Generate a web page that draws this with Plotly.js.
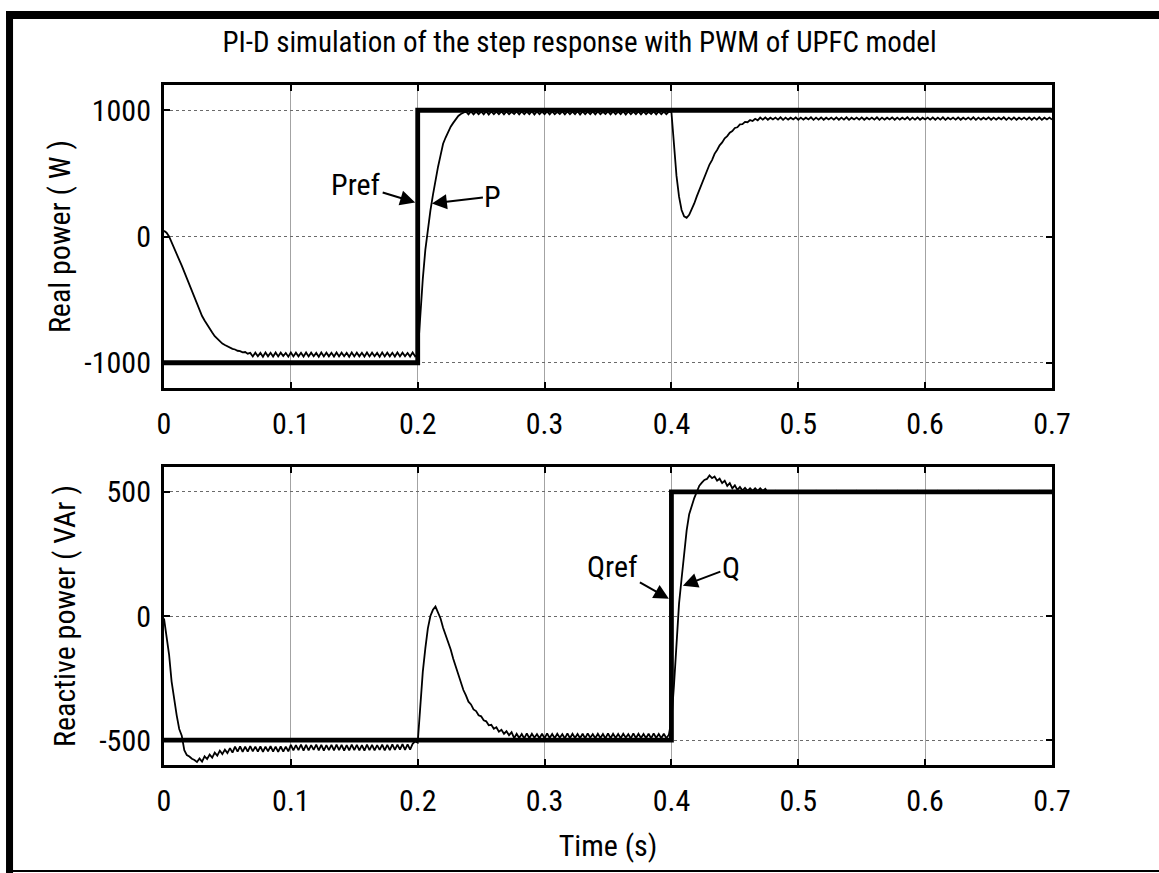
<!DOCTYPE html>
<html>
<head>
<meta charset="utf-8">
<script src="https://cdn.plot.ly/plotly-3.0.1.min.js"></script>
<style>
  html, body { margin: 0; padding: 0; background: #fff; }
  #chart { width: 1159px; height: 873px; }
</style>
</head>
<body>
<div id="chart"></div>
<script>
// ---- Data ----
const T0 = 0;          // first sample time (s)
const DT = 0.002;      // sample spacing (s)

const xTickVals = [0, 0.1, 0.2, 0.3, 0.4, 0.5, 0.6, 0.7];
const xTickText = ['0', '0.1', '0.2', '0.3', '0.4', '0.5', '0.6', '0.7'];
const pTickVals = [-1000, 0, 1000];
const pTickText = ['-1000', '0', '1000'];
const qTickVals = [-500, 0, 500];
const qTickText = ['-500', '0', '500'];

// Reference steps
const prefT = [0, 0.2, 0.2, 0.7];
const prefV = [-1000, -1000, 1000, 1000];
const qrefT = [0, 0.4, 0.4, 0.7];
const qrefV = [-500, -500, 500, 500];

// Real power response P (W), every 2 ms from 0 to 0.7 s
const P = [
  45,30,0,-50,-95,-140,-185,-230,-280,-330,
  -385,-435,-490,-540,-585,-630,-665,-700,-735,-760,
  -790,-812,-830,-848,-860,-872,-880,-890,-895,-905,
  -908,-918,-915,-928,-922,
  -950,-920,-948,-922,-952,-918,-949,-921,-951,-919,
  -950,-920,-947,-923,-952,-918,-950,-920,-949,-921,
  -951,-919,-950,-920,-948,-922,-952,-918,-950,-920,
  -949,-921,-951,-919,-950,-920,-948,-922,-952,-918,
  -950,-920,-949,-921,-951,-919,-950,-920,-948,-922,
  -952,-918,-950,-920,-949,-921,-951,-919,-950,-920,
  -948,-922,-951,-919,-950,
  -935,
  -610,-337,-106,69,205,330,450,551,643,735,
  784,833,870,900,928,955,970,978,
  990,968,991,967,989,969,990,968,992,966,
  990,968,989,969,991,967,990,968,988,970,
  991,967,990,968,989,969,992,966,990,968,
  989,969,991,967,990,968,988,970,991,967,
  990,968,989,969,992,966,990,968,989,969,
  991,967,990,968,988,970,991,967,990,968,
  989,969,992,966,990,968,989,969,991,967,
  990,968,988,970,991,967,990,968,989,969,
  990,
  985,
  750,480,315,210,160,148,172,215,262,318,
  370,422,475,520,570,605,655,685,722,745,
  778,795,822,835,860,865,888,890,908,905,
  922,915,932,920,
  942,926,943,925,941,927,942,926,944,924,
  942,926,941,927,943,925,942,926,941,927,
  944,924,942,926,943,925,941,927,942,926,
  943,925,942,926,944,924,941,927,942,926,
  943,925,941,927,942,926,944,924,942,926,
  941,927,943,925,942,926,941,927,944,924,
  942,926,943,925,941,927,942,926,943,925,
  942,926,944,924,941,927,942,926,943,925,
  941,927,942,926,944,924,942,926,941,927,
  943,925,942,926,941,927,944,924,942,926,
  943,925,941,927,942,926,943,925,942,926,
  944,924,941,927,942,926
];

// Reactive power response Q (VAr), every 2 ms from 0 to 0.7 s
const Q = [
  -10,-85,-155,-264,-335,-400,-455,-482,-540,-560,
  -566,-575,-580,
  -588,-574,-586,-565,-576,-558,-570,-550,-562,-542,
  -556,-538,-552,-532,-550,
  -526,-546,-525,-547,-526,-546,-524,-545,-526,-546,
  -525,-547,-526,-545,-524,-546,-526,-547,-525,-546,
  -526,-545,
  -519,-541,-520,-540,-518,-542,-519,-541,-520,-539,
  -518,-541,-519,-542,-520,-540,-519,-541,-518,-540,
  -519,-542,-520,-541,-518,-540,-519,-541,-520,-542,
  -518,-540,-519,-541,-520,-539,-518,-541,-519,-540,
  -517,-539,-518,-538,-516,-539,-517,-538,
  -515,-505,-510,
  -360,-225,-130,-50,0,25,38,15,-10,-47,
  -75,-101,-135,-172,-205,-236,-270,-298,-320,-345,
  -356,-376,-383,-400,-404,-420,-424,-440,-438,-454,
  -448,-466,-458,-474,-464,-480,-468,
  -492,-474,-491,-475,-493,-473,-492,-474,-490,-476,
  -492,-474,-493,-473,-491,-475,-492,-474,-490,-476,
  -493,-473,-492,-474,-491,-475,-492,-474,-493,-473,
  -490,-476,-492,-474,-491,-475,-493,-473,-492,-474,
  -491,-475,-492,-474,-490,-476,-493,-473,-492,-474,
  -491,-475,-492,-474,-493,-473,-491,-475,-492,-474,
  -492,
  -478,
  -420,-280,-100,50,150,260,345,410,448,475,
  500,525,537,548,552,566,555,562,545,553,
  535,545,524,535,514,526,508,520,505,516,
  504,514,504,514,504,514,504,512,
  497,503,496,504,497,503,498,502,497,503,
  496,504,497,503,498,502,497,503,496,504,
  497,503,498,502,497,503,496,504,497,503,
  498,502,497,503,496,504,497,503,498,502,
  497,503,496,504,497,503,498,502,497,503,
  496,504,497,503,498,502,497,503,496,504,
  497,503,498,502,497,503,496,504,497,503,
  498,502,497,503,496,504,497,503,498,502,
  497,503,496,504,497,503,498,502,497,503,
  496,504,497,503,498,502,497,503,496,504,
  497,503,498,502,497,503,496,504,497,503,
  498,502,497
];

// ---- Styling ----
const FONT = '"Roboto Condensed", Roboto, "Liberation Sans", Arial, sans-serif';
const FS = 30;
const TFS = 29;

const traces = [
  { x0: T0, dx: DT, y: P, xaxis: 'x', yaxis: 'y', mode: 'lines',
    line: { color: '#000', width: 1.8 }, hoverinfo: 'skip' },
  { x: prefT, y: prefV, xaxis: 'x', yaxis: 'y', mode: 'lines',
    line: { color: '#000', width: 4.8 }, hoverinfo: 'skip' },
  { x0: T0, dx: DT, y: Q, xaxis: 'x2', yaxis: 'y2', mode: 'lines',
    line: { color: '#000', width: 1.8 }, hoverinfo: 'skip' },
  { x: qrefT, y: qrefV, xaxis: 'x2', yaxis: 'y2', mode: 'lines',
    line: { color: '#000', width: 4.8 }, hoverinfo: 'skip' }
];

function xAxis(anchor, title) {
  const a = {
    anchor: anchor, domain: [0, 1], range: [0, 0.7],
    tickmode: 'array', tickvals: xTickVals, ticktext: xTickText,
    showgrid: true, gridcolor: '#a3a3a3', gridwidth: 1,
    zeroline: false, showline: true, linecolor: '#000', linewidth: 3,
    mirror: 'ticks', ticks: 'inside', ticklen: 6, tickwidth: 2, tickcolor: '#000',
    tickfont: { family: FONT, size: FS, color: '#000' },
    ticklabelstandoff: 7
  };
  if (title) a.title = { text: title, font: { family: FONT, size: FS, color: '#000' }, standoff: 18 };
  return a;
}
function yAxis(anchor, domain, range, tv, tt, title, standoff) {
  return {
    anchor: anchor, domain: domain, range: range,
    tickmode: 'array', tickvals: tv, ticktext: tt,
    showgrid: true, gridcolor: '#6a6a6a', gridwidth: 1, griddash: 'dot',
    zeroline: false, showline: true, linecolor: '#000', linewidth: 3,
    mirror: 'ticks', ticks: 'inside', ticklen: 6, tickwidth: 2, tickcolor: '#000',
    tickfont: { family: FONT, size: FS, color: '#000' },
    ticklabelstandoff: 4,
    title: { text: title, font: { family: FONT, size: FS, color: '#000' }, standoff: standoff }
  };
}

const annFont = { family: FONT, size: FS, color: '#000' };
function arrowNote(xr, yr, x, y, text, ax, ay) {
  return { xref: xr, yref: yr, x: x, y: y, text: text, showarrow: true,
    arrowhead: 2, arrowsize: 1.5, arrowwidth: 2, arrowcolor: '#000',
    ax: ax, ay: ay, font: annFont };
}

const layout = {
  width: 1159, height: 873,
  margin: { l: 164, r: 107, t: 85, b: 108 },
  paper_bgcolor: '#fff', plot_bgcolor: '#fff',
  showlegend: false,
  font: { family: FONT, size: FS, color: '#000' },
  title: { text: 'PI-D simulation of the step response with PWM of UPFC model',
    font: { family: FONT, size: TFS, color: '#000' },
    x: 0.5, xref: 'container', xanchor: 'center',
    y: 0.952, yref: 'container', yanchor: 'middle' },
  xaxis: xAxis('y', null),
  yaxis: yAxis('x', [0.5544, 1], [-1200, 1200], pTickVals, pTickText, 'Real power ( W )', 5),
  xaxis2: xAxis('y2', 'Time (s)'),
  yaxis2: yAxis('x2', [0, 0.4382], [-600, 600], qTickVals, qTickText, 'Reactive power ( VAr )', 15),
  annotations: [
    arrowNote('x', 'y', 0.198, 270, 'Pref', -59, -18),
    arrowNote('x', 'y', 0.2112, 262, 'P', 61, -7),
    arrowNote('x2', 'y2', 0.398, 69, 'Qref', -56, -32),
    arrowNote('x2', 'y2', 0.409, 122, 'Q', 48, -18)
  ],
  shapes: [
    // outer figure frame: thick top and left, thin bottom
    { type: 'rect', xref: 'paper', yref: 'paper', x0: -0.1779, x1: 1.1205, y0: 1.0971, y1: 1.1088,
      fillcolor: '#000', line: { width: 0 } },
    { type: 'rect', xref: 'paper', yref: 'paper', x0: -0.1779, x1: -0.1700, y0: -0.1588, y1: 1.1088,
      fillcolor: '#000', line: { width: 0 } },
    { type: 'rect', xref: 'paper', yref: 'paper', x0: -0.1779, x1: 1.1205, y0: -0.1574, y1: -0.1544,
      fillcolor: '#000', line: { width: 0 } }
  ]
};

Plotly.newPlot('chart', traces, layout, { staticPlot: true, displayModeBar: false });
</script>
</body>
</html>
